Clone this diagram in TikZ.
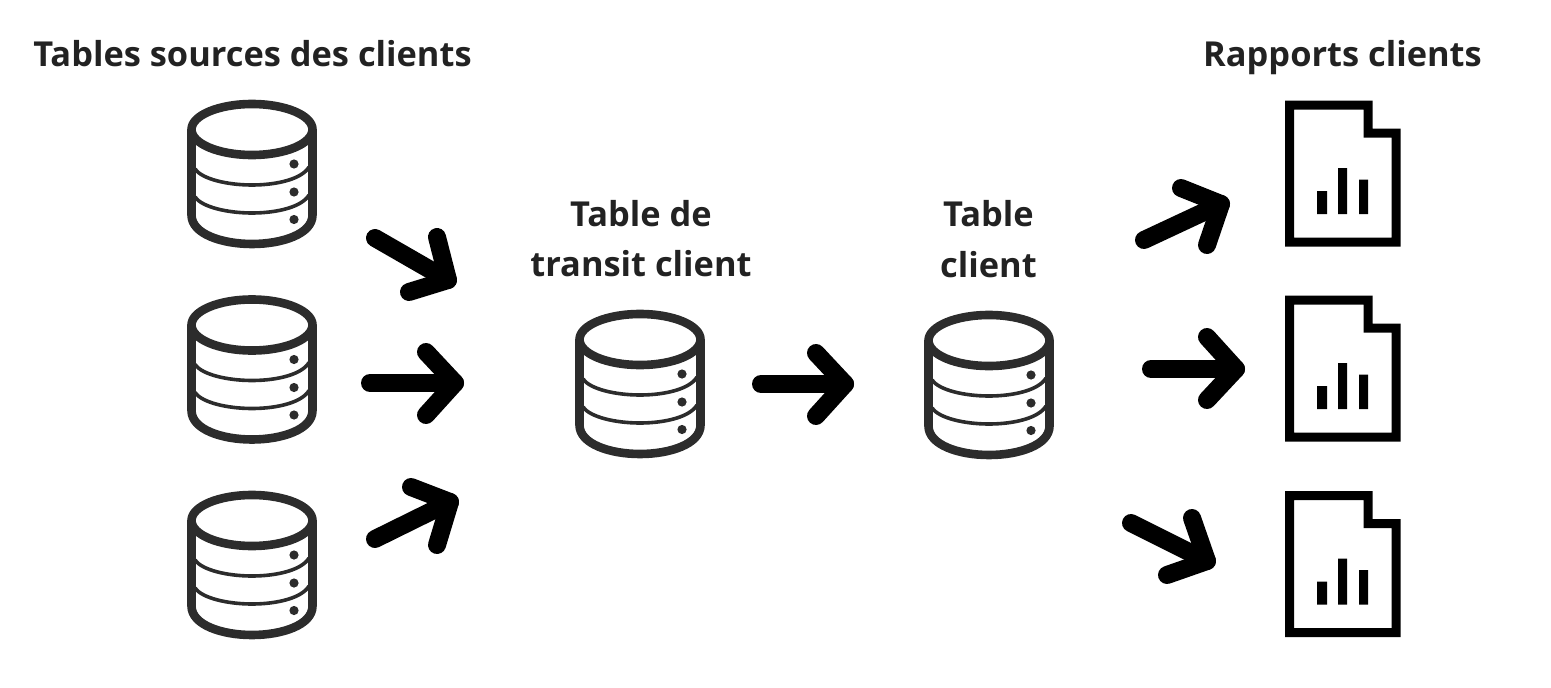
\documentclass[tikz,border=0pt]{standalone}
\usepackage{fontspec}
\usetikzlibrary{calc}
\setmainfont{Open Sans}
\definecolor{dbcol}{HTML}{2C2C2C}
\definecolor{txtcol}{HTML}{222222}
\tikzset{
  x=1pt,y=-1pt,
  title/.style={font=\fontsize{34.4}{50}\selectfont\bfseries,text=txtcol,anchor=base,align=center,inner sep=0pt},
  flow/.style={line width=18pt,line cap=round,line join=round,black},
  dbline/.style={draw=dbcol,line width=8.6pt,line join=round},
  dbsep/.style={draw=dbcol,line width=3.6pt},
  dbicon/.pic={
    \draw[dbline] (-60.5,30) -- (-60.5,116) .. controls (-60.5,135) and (-30,145) .. (0,145)
       .. controls (30,145) and (60.5,135) .. (60.5,116) -- (60.5,30);
    \draw[dbsep] (-57,70) .. controls (-50,80) and (-25,86) .. (0,86) .. controls (25,86) and (50,80) .. (57,68);
    \draw[dbsep] (-57,98) .. controls (-50,108) and (-25,114) .. (0,114) .. controls (25,114) and (50,108) .. (57,96);
    \draw[dbline,fill=white] (0,30.5) ellipse [x radius=60.5,y radius=25.5];
    \fill[dbcol] (42,65) circle (4.6) (42,93) circle (4.6) (42,120.5) circle (4.6);
  },
  docicon/.pic={
    \fill[black,even odd rule]
      (0,.5) -- (87.5,.5) -- (87.5,28.5) -- (115.5,28.5) -- (115.5,146.5) -- (0,146.5) -- cycle
      (9,9.5) -- (78.5,9.5) -- (78.5,37.5) -- (106.5,37.5) -- (106.5,137.5) -- (9,137.5) -- cycle;
    \fill[black] (32,91) rectangle (42,114) (53,68) rectangle (62,114) (74,79.5) rectangle (83,114);
  }
}
\newcommand{\flowarrow}[5]{%
  \coordinate (#1t) at #2; \coordinate (#1h) at #3;
  \coordinate (#1a) at #4; \coordinate (#1b) at #5;
  \draw[flow] (#1t) -- (#1h);
  \draw[flow] (#1a) -- (#1h) -- (#1b);
  \draw[flow,fill=black,line width=10pt] (#1h) -- ($(#1h)!.3!(#1a)$) -- ($(#1h)!.3!(#1b)$) -- cycle;
}
\begin{document}
\begin{tikzpicture}
\useasboundingbox (0,0) rectangle (1551,688);
\node[title] (t1) at (252.5,66) {Tables sources des clients};
\node[title] (t2) at (1342.5,66) {Rapports clients};
\node[title] (t3) at (641,226) {Table de};
\node[title] (t4) at (641,276) {transit client};
\node[title] (t5) at (988.5,226) {Table};
\node[title] (t6) at (988.5,277) {client};
\pic at (252,99) {dbicon};
\pic at (252,294.5) {dbicon};
\pic at (252,490) {dbicon};
\pic at (640,309) {dbicon};
\pic at (989,310) {dbicon};
\pic at (1285,100) {docicon};
\pic at (1285,295) {docicon};
\pic at (1285,490.5) {docicon};
\flowarrow{a}{(375,238)}{(448,280)}{(437,237)}{(409,292)}
\flowarrow{b}{(370,383)}{(455,383)}{(426,352)}{(426,415)}
\flowarrow{c}{(375,539)}{(450,502)}{(411,487)}{(437,545)}
\flowarrow{d}{(761,384)}{(845,384)}{(816,353)}{(816,416)}
\flowarrow{e}{(1144,240)}{(1221,204)}{(1181,188)}{(1207,245)}
\flowarrow{f}{(1151,369)}{(1236,369)}{(1207,337)}{(1207,400)}
\flowarrow{g}{(1131,523)}{(1207,561)}{(1192,518)}{(1167,575)}
\end{tikzpicture}
\end{document}
